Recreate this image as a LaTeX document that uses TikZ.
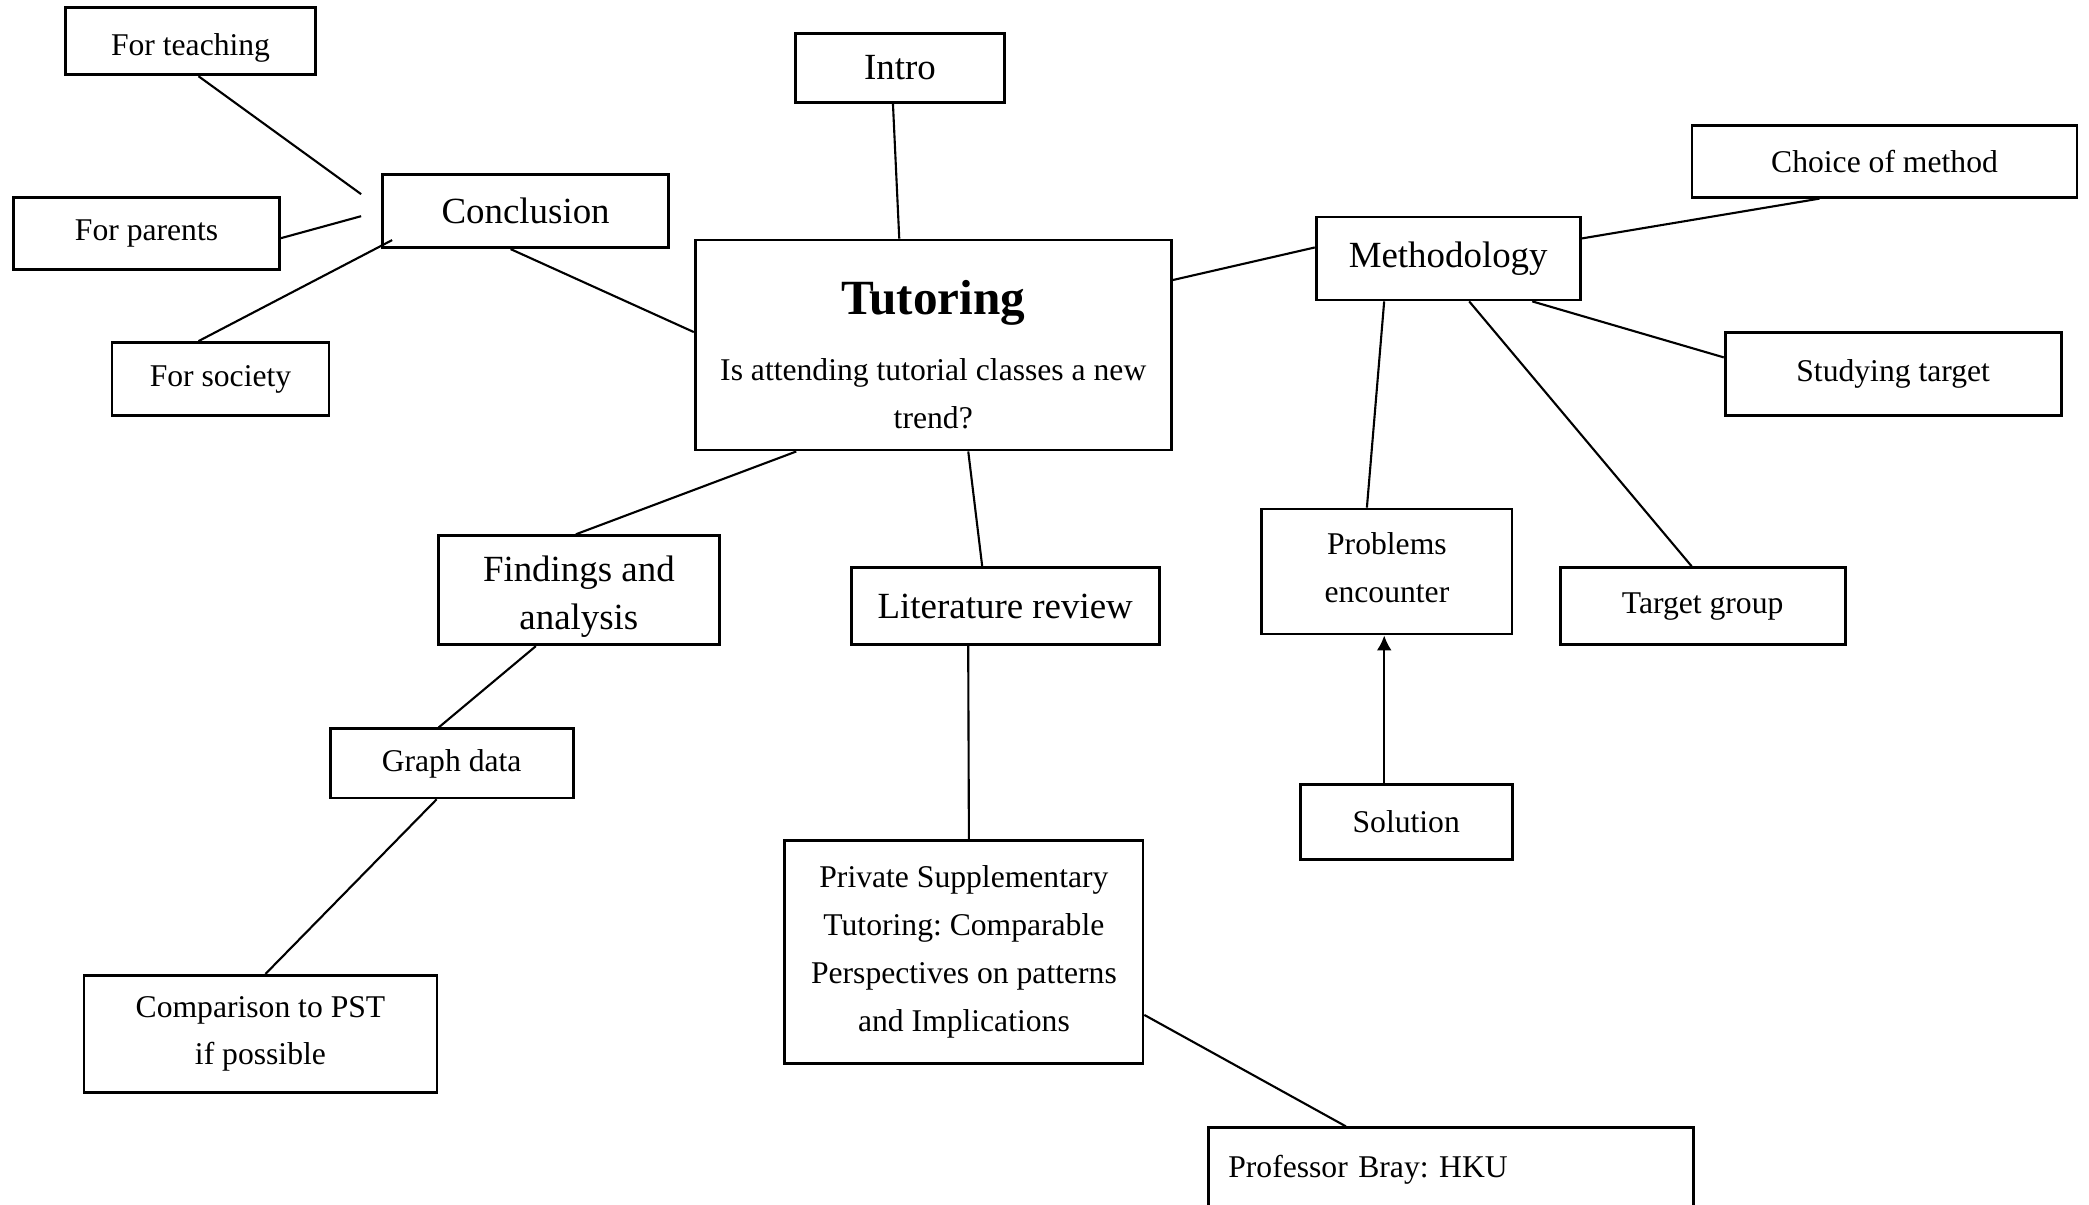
\documentclass[tikz,border=0pt]{standalone}
\usepackage{fontspec}
\setmainfont{Liberation Serif}
\frenchspacing
\usetikzlibrary{arrows.meta}

\begin{document}
\begin{tikzpicture}[x=0.013323cm,y=-0.013323cm,line width=0.6pt,
		box/.style={draw,line width=0.8pt,inner sep=0pt,align=center,font=\fontsize{9}{13.6}\selectfont},
		head/.style={box,font=\fontsize{10.5}{13.6}\selectfont}]
	\useasboundingbox (0,0) rectangle (1568,904);
	% centre
	\node[box,minimum width=4.76cm,minimum height=2.1cm] (tutoring) at (700.5,259) {{\fontsize{14}{17}\selectfont\bfseries\rule{0pt}{15.3pt}Tutoring}\\[5.1pt] Is attending tutorial classes a new\\ trend?};
	\node[head,minimum width=2.09cm,minimum height=0.69cm] (intro) at (675.5,51) {Intro};
	% conclusion side
	\node[head,minimum width=2.86cm,minimum height=0.73cm] (conclusion) at (394.5,158.5) {Conclusion};
	\node[box,minimum width=2.5cm,minimum height=0.67cm,text height=10pt] (teaching) at (143,31) {For teaching};
	\node[box,minimum width=2.66cm,minimum height=0.72cm] (parents) at (110,175) {For parents};
	\node[box,minimum width=2.17cm,minimum height=0.73cm] (society) at (165.5,284.5) {For society};
	\coordinate (c1) at ([xshift=-0.2cm,yshift=0.17cm]conclusion.west);
	\coordinate (c2) at ([xshift=-0.2cm,yshift=-0.05cm]conclusion.west);
	\coordinate (c3) at ([xshift=0.11cm,yshift=0.09cm]conclusion.south west);
	% methodology side
	\node[head,minimum width=2.64cm,minimum height=0.83cm] (method) at (1087,194) {Methodology};
	\node[box,minimum width=3.85cm,minimum height=0.72cm] (choice) at (1414.5,121) {Choice of method};
	\node[box,minimum width=3.36cm,minimum height=0.83cm] (studying) at (1421,281) {Studying target};
	\node[box,minimum width=2.5cm,minimum height=1.25cm] (problems) at (1041,429) {Problems\\ encounter\rule[-2.3pt]{0pt}{0pt}};
	\node[box,minimum width=2.85cm,minimum height=0.77cm] (targetgroup) at (1278,455) {Target group};
	\node[box,minimum width=2.12cm,minimum height=0.75cm] (solution) at (1055.5,617) {Solution};
	% findings and literature
	\node[head,minimum width=2.81cm,minimum height=1.09cm] (findings) at (434.5,443) {\rule{0pt}{11pt}Findings and\\ analysis};
	\node[head,minimum width=3.08cm,minimum height=0.77cm] (litreview) at (754.5,455) {Literature review};
	\node[box,minimum width=2.43cm,minimum height=0.69cm] (graphdata) at (339,573) {Graph data};
	\node[box,minimum width=3.53cm,minimum height=1.17cm] (comparison) at (195.5,776) {Comparison to PST\\ if possible};
	\node[box,minimum width=3.58cm,minimum height=2.23cm] (pst) at (723.5,714.5) {Private Supplementary\\ Tutoring: Comparable\\ Perspectives on patterns\\ and Implications};
	\node[box,align=left,text width=4.45cm,inner xsep=0.2cm,minimum height=0.84cm] (bray) at (1089,878) {Professor Bray: HKU};
	\path
		([xshift=-0.07cm]intro.south) edge ([xshift=-0.34cm]tutoring.north)
		([xshift=-0.15cm]conclusion.south) edge ([yshift=0.13cm]tutoring.west)
		([xshift=0.08cm]teaching.south) edge (c1)
		([yshift=-0.05cm]parents.east) edge (c2)
		([xshift=-0.22cm]society.north) edge (c3)
		([yshift=0.65cm]tutoring.east) edge ([yshift=0.11cm]method.west)
		([yshift=0.2cm]method.east) edge ([xshift=-0.65cm]choice.south)
		([xshift=0.84cm]method.south) edge ([yshift=0.17cm]studying.west)
		([xshift=0.21cm]method.south) edge ([xshift=-0.11cm]targetgroup.north)
		([xshift=-0.64cm]method.south) edge ([xshift=-0.2cm]problems.north)
		([xshift=-1.37cm]tutoring.south) edge ([xshift=-0.03cm]findings.north)
		([xshift=0.35cm]tutoring.south) edge ([xshift=-0.23cm]litreview.north)
		([xshift=-0.37cm]litreview.south) edge ([xshift=0.05cm]pst.north)
		([xshift=-0.43cm]findings.south) edge ([xshift=-0.13cm]graphdata.north)
		([xshift=-0.15cm]graphdata.south) edge ([xshift=0.05cm]comparison.north)
		([yshift=-0.63cm]pst.east) edge ([xshift=-1.05cm]bray.north);
	\draw[-{Latex[length=0.15cm,width=0.15cm]}] ([xshift=-0.22cm]solution.north) -- ([xshift=-0.22cm]solution.north |- problems.south);
\end{tikzpicture}
\end{document}
